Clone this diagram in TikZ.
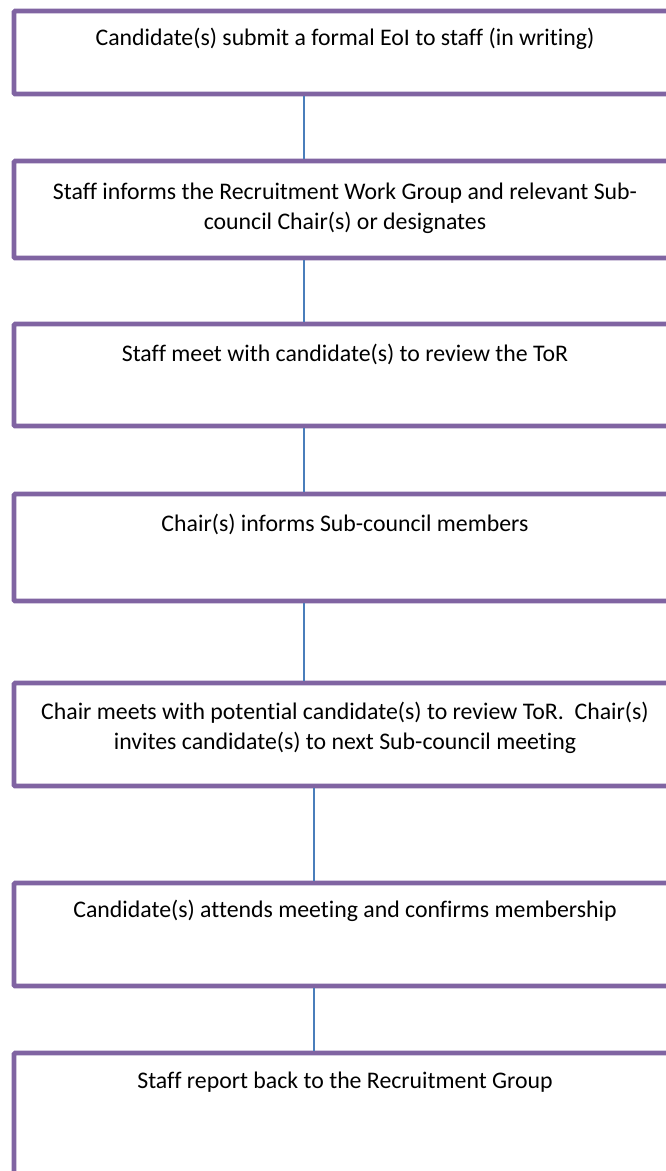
\documentclass[tikz,border=0pt]{standalone}
\usepackage{fontspec}
\setmainfont{Carlito}[Ligatures=NoCommon]
\usetikzlibrary{positioning}
\definecolor{boxpurple}{HTML}{8064A2}
\definecolor{linkblue}{HTML}{4A7EBB}
\tikzset{
  stepbox/.style={draw=boxpurple, line width=4.6pt, rounded corners=1pt,
    minimum width=662pt, inner sep=0pt},
  steptext/.style={anchor=north, align=center, inner sep=0pt,
    font=\fontsize{23.8}{30}\selectfont},
  link/.style={draw=linkblue, line width=1.8pt}
}
\begin{document}
\begin{tikzpicture}[x=1pt,y=-1pt]
      \useasboundingbox (0,0) rectangle (665,1171);
      \node[stepbox, minimum height=83pt]  (s1) at (345,52.5) {};
      \node[stepbox, minimum height=97pt]  (s2) at (345,209.5) {};
      \node[stepbox, minimum height=102pt] (s3) at (345,375) {};
      \node[stepbox, minimum height=107pt] (s4) at (345,547.5) {};
      \node[stepbox, minimum height=103pt] (s5) at (345,734.5) {};
      \node[stepbox, minimum height=103pt] (s6) at (345,934.5) {};
      \node[stepbox, minimum height=137pt] (s7) at (345,1121.5) {};
      \node[steptext, below=19pt of s1.north] (t1)
        {Candidate(s) submit a formal EoI to staff (in writing)};
      \node[steptext, below=24pt of s2.north] (t2)
        {Staff informs the Recruitment Work Group and relevant Sub-\\council Chair(s) or designates};
      \node[steptext, below=22pt of s3.north] (t3)
        {Staff meet with candidate(s) to review the ToR};
      \node[steptext, below=22pt of s4.north] (t4)
        {Chair(s) informs Sub-council members};
      \node[steptext, below=21pt of s5.north] (t5)
        {Chair meets with potential candidate(s) to review ToR.\ \ Chair(s)\\invites candidate(s) to next Sub-council meeting};
      \node[steptext, below=19pt of s6.north] (t6)
        {Candidate(s) attends meeting and confirms membership};
      \node[steptext, below=21pt of s7.north] (t7)
        {Staff report back to the Recruitment Group};
      \begin{scope}[link]
        \draw ([xshift=-41pt]s1.south) to ([xshift=-41pt]s2.north);
        \draw ([xshift=-41pt]s2.south) to ([xshift=-41pt]s3.north);
        \draw ([xshift=-41pt]s3.south) to ([xshift=-41pt]s4.north);
        \draw ([xshift=-41pt]s4.south) to ([xshift=-41pt]s5.north);
        \draw ([xshift=-31pt]s5.south) to ([xshift=-31pt]s6.north);
        \draw ([xshift=-31pt]s6.south) to ([xshift=-31pt]s7.north);
      \end{scope}
    \end{tikzpicture}
\end{document}
